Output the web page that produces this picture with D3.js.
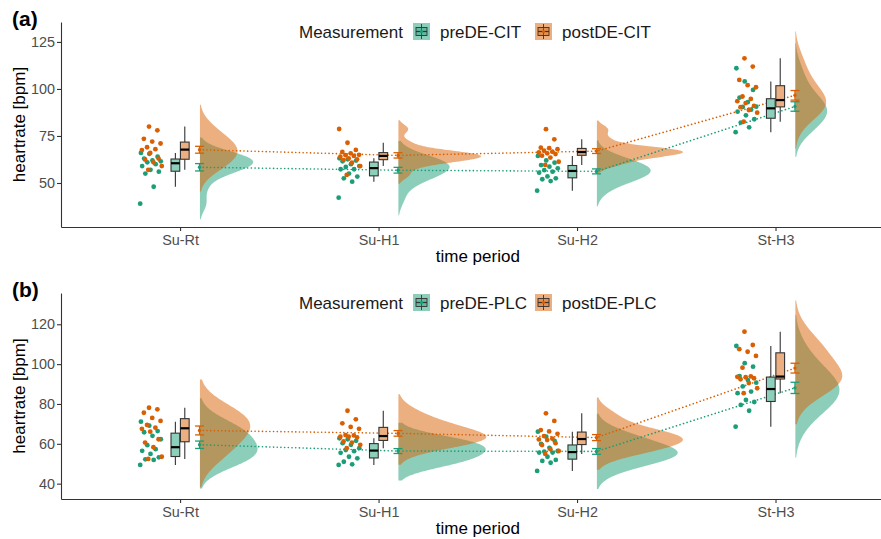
<!DOCTYPE html>
<html>
<head>
<meta charset="utf-8">
<script src="https://cdn.jsdelivr.net/npm/d3@7"></script>
<style>
  body { margin: 0; background: #fff; }
  text { font-family: "Liberation Sans", Arial, sans-serif; }
</style>
</head>
<body>
<div id="chart"></div>
<script>
// time periods on the x axis
const categories = ["Su-Rt", "Su-H1", "Su-H2", "St-H3"];

// heart rates [bpm], one list per time period (Su-Rt, Su-H1, Su-H2, St-H3)
const citPre = [
  [39, 48, 55, 56, 57, 59, 60, 61, 61.5, 62, 63, 64, 65.5, 66],
  [42.2, 50.7, 52.5, 53.4, 55, 57.3, 57.3, 58.5, 59, 60, 61.5, 61.9, 62.6, 63.1],
  [45.9, 51, 52, 52.5, 53.5, 55.5, 56, 56.8, 57.8, 58.7, 59.5, 60.8, 62, 64.4],
  [77, 79.6, 82.1, 83.9, 86, 87.9, 89, 90.4, 90.6, 93, 95.4, 99.5, 104, 111]
];
const citPost = [
  [57, 59, 61, 62.5, 63, 66, 67.5, 68, 69, 71, 72, 73.5, 78, 80],
  [54.3, 59, 60.8, 62.2, 62.6, 63.1, 64, 64.4, 64.8, 65, 65.8, 66.5, 67.6, 71.4, 78.7],
  [59.6, 61.3, 63.5, 64.5, 65.4, 65.8, 66.3, 66.6, 67.2, 68, 68.5, 68.8, 73.2, 78.6],
  [82.6, 87.4, 88.8, 90.3, 91, 92.5, 93.5, 94.7, 96, 100.9, 102, 104.8, 111.9, 116.3]
];
const plcPre = [
  [49.4, 51.9, 52.2, 53.2, 54.9, 56.5, 57.3, 59.3, 62.3, 64, 65.8, 66.4, 69.1, 71.1],
  [49.4, 49.7, 51, 52.7, 53.5, 55.5, 56.3, 56.9, 57.8, 59.5, 60.3, 61.5, 62.3, 62.8],
  [46.4, 50.5, 51.4, 51.9, 53.5, 55.6, 55.6, 56.1, 56.4, 58, 59.9, 61.5, 63.6, 66.1],
  [68.6, 76.6, 79.5, 81, 82, 85.4, 86.2, 88.8, 90.7, 92, 94, 98.7, 100.5, 109.1]
];
const plcPost = [
  [52.4, 53.5, 58.3, 60.6, 62.3, 66.1, 67.5, 68.1, 69.5, 71.5, 73, 75.6, 77.3, 78.1],
  [57.8, 59.5, 60.6, 61.2, 63.2, 63.6, 63.6, 64.2, 64.4, 67.5, 68.5, 70.3, 72.3, 76.6],
  [54.9, 56.4, 57.3, 59.4, 60.3, 61.9, 62.2, 62.6, 63.9, 65, 66.2, 66.9, 71.5, 75.3],
  [85.4, 87.9, 90.5, 92.4, 92.9, 93.4, 93.6, 93.9, 98.2, 104.1, 106.2, 107.5, 109.6, 116.3]
];

// y tick labels per panel
const yTicksA = [50, 75, 100, 125];
const yTicksB = [40, 60, 80, 100, 120];

const preColor = "#1B9E77";
const postColor = "#D95F02";

const svg = d3.select("#chart").append("svg")
  .attr("width", 881)
  .attr("height", 539)
  .style("display", "block");

const x = d3.scaleLinear().domain([-0.6, 3.6]).range([61, 894.6]);

const panels = [
  { tag: "(a)", top: 22, bottom: 227, yDomain: [26.6, 135.6], yTicks: yTicksA,
    pre: citPre, post: citPost, preName: "preDE-CIT", postName: "postDE-CIT", maxW: 86 },
  { tag: "(b)", top: 293, bottom: 499, yDomain: [32.3, 135.7], yTicks: yTicksB,
    pre: plcPre, post: plcPost, preName: "preDE-PLC", postName: "postDE-PLC", maxW: 88 }
];

function stats(v) {
  const s = v.slice().sort(d3.ascending);
  const q1 = d3.quantile(s, 0.25), med = d3.quantile(s, 0.5), q3 = d3.quantile(s, 0.75);
  const iqr = q3 - q1;
  const lo = d3.min(s.filter(d => d >= q1 - 1.5 * iqr));
  const hi = d3.max(s.filter(d => d <= q3 + 1.5 * iqr));
  const mean = d3.mean(s);
  const se = d3.deviation(s) / Math.sqrt(s.length);
  return { q1, med, q3, lo, hi, mean, se };
}

// gaussian kernel density, nrd0 bandwidth widened, tails cut past the data
function kde(v) {
  const n = v.length;
  const s = v.slice().sort(d3.ascending);
  const iqr = d3.quantile(s, 0.75) - d3.quantile(s, 0.25);
  const bw = 1.6 * 0.9 * Math.min(d3.deviation(s), iqr / 1.34) * Math.pow(n, -0.2);
  const lo = s[0] - 2 * bw, hi = s[n - 1] + 2 * bw;
  const pts = [];
  for (let k = 0; k <= 200; k++) {
    const t = lo + (hi - lo) * k / 200;
    let d = 0;
    for (const xi of s) { const u = (t - xi) / bw; d += Math.exp(-0.5 * u * u); }
    pts.push({ y: t, d: d / (n * bw * Math.sqrt(2 * Math.PI)) });
  }
  return pts;
}

panels.forEach(p => {
  const y = d3.scaleLinear().domain(p.yDomain).range([p.bottom, p.top]);
  const g = svg.append("g");

  const groups = [
    { data: p.pre, color: preColor, dx: -0.0237, gi: 0 },
    { data: p.post, color: postColor, dx: 0.0237, gi: 1 }
  ];
  groups.forEach(gr => {
    gr.stats = gr.data.map(stats);
    gr.dens = gr.data.map(kde);
  });
  const maxD = d3.max(groups, gr => d3.max(gr.dens, ds => d3.max(ds, d => d.d)));
  const K = p.maxW / maxD;

  // half violins
  groups.forEach(gr => {
    gr.dens.forEach((ds, i) => {
      const x0 = x(i + 0.1);
      g.append("path")
        .attr("d", d3.area().curve(d3.curveBasis).x0(x0).x1(d => x0 + d.d * K).y(d => y(d.y))(ds))
        .attr("fill", gr.color)
        .attr("fill-opacity", 0.5);
    });
  });

  // dotted lines between means
  groups.forEach(gr => {
    g.append("path")
      .attr("d", d3.line().x((s, i) => x(i + 0.098)).y(s => y(s.mean))(gr.stats))
      .attr("fill", "none")
      .attr("stroke", gr.color)
      .attr("stroke-width", 1.6)
      .attr("stroke-dasharray", "0.1,3.6")
      .attr("stroke-linecap", "round");
  });

  // raw points
  groups.forEach(gr => {
    gr.data.forEach((vals, i) => {
      vals.forEach((v, j) => {
        const jit = (((j * 0.618034 + gr.gi * 0.37) % 1) - 0.5) * 0.11;
        g.append("circle")
          .attr("cx", x(i - 0.146 + jit))
          .attr("cy", y(v))
          .attr("r", 2.4)
          .attr("fill", gr.color);
      });
    });
  });

  // boxplots
  const bw = x(0.044) - x(0);
  groups.forEach(gr => {
    gr.stats.forEach((s, i) => {
      const cx = x(i + gr.dx);
      g.append("line").attr("x1", cx).attr("x2", cx).attr("y1", y(s.hi)).attr("y2", y(s.q3))
        .attr("stroke", "#333").attr("stroke-width", 1.1);
      g.append("line").attr("x1", cx).attr("x2", cx).attr("y1", y(s.q1)).attr("y2", y(s.lo))
        .attr("stroke", "#333").attr("stroke-width", 1.1);
      g.append("rect")
        .attr("x", cx - bw / 2).attr("width", bw)
        .attr("y", y(s.q3)).attr("height", y(s.q1) - y(s.q3))
        .attr("fill", d3.interpolateRgb("#fff", gr.color)(0.5))
        .attr("stroke", "#333").attr("stroke-width", 1.1);
      g.append("line").attr("x1", cx - bw / 2).attr("x2", cx + bw / 2)
        .attr("y1", y(s.med)).attr("y2", y(s.med))
        .attr("stroke", "#000").attr("stroke-width", 2.2);
    });
  });

  // mean +/- se
  groups.forEach(gr => {
    gr.stats.forEach((s, i) => {
      const cx = x(i + 0.098);
      const e = g.append("g").attr("stroke", gr.color).attr("stroke-width", 1.3);
      e.append("line").attr("x1", cx).attr("x2", cx).attr("y1", y(s.mean - s.se)).attr("y2", y(s.mean + s.se));
      e.append("line").attr("x1", cx - 4.5).attr("x2", cx + 4.5).attr("y1", y(s.mean - s.se)).attr("y2", y(s.mean - s.se));
      e.append("line").attr("x1", cx - 4.5).attr("x2", cx + 4.5).attr("y1", y(s.mean + s.se)).attr("y2", y(s.mean + s.se));
      g.append("circle").attr("cx", cx).attr("cy", y(s.mean)).attr("r", 1.7).attr("fill", gr.color);
    });
  });

  // axes
  const xAxis = d3.axisBottom(x).tickValues([0, 1, 2, 3]).tickFormat(i => categories[i])
    .tickSize(4).tickSizeOuter(0).tickPadding(4);
  const xg = g.append("g").attr("transform", `translate(0,${p.bottom})`).call(xAxis);
  const yAxis = d3.axisLeft(y).tickValues(p.yTicks).tickSize(4).tickSizeOuter(0).tickPadding(2);
  const yg = g.append("g").attr("transform", "translate(61,0)").call(yAxis);
  [xg, yg].forEach(a => {
    a.select(".domain").attr("stroke", "#333").attr("stroke-width", 1.1);
    a.selectAll(".tick line").attr("stroke", "#333").attr("stroke-width", 1.1);
    a.selectAll(".tick text").attr("fill", "#4D4D4D")
      .style("font-size", "14.4px").style("font-family", "'Liberation Sans', Arial, sans-serif");
  });

  // titles
  g.append("text")
    .attr("x", (61 + 894.6) / 2).attr("y", p.bottom + 35)
    .attr("text-anchor", "middle").attr("font-size", 17).attr("fill", "#000")
    .text("time period");
  g.append("text")
    .attr("transform", `translate(24.5,${(p.top + p.bottom) / 2}) rotate(-90)`)
    .attr("text-anchor", "middle").attr("font-size", 17).attr("fill", "#000")
    .text("heartrate [bpm]");
  g.append("text")
    .attr("x", 12).attr("y", p.top + 4)
    .attr("font-size", 21).attr("font-weight", "bold").attr("fill", "#000")
    .text(p.tag);

  // legend
  const ly = p.top + 16;
  g.append("text").attr("x", 299).attr("y", ly).attr("font-size", 17).attr("fill", "#1a1a1a")
    .text("Measurement");
  [[413, preColor, p.preName], [535, postColor, p.postName]].forEach(([lx, col, name]) => {
    const k = g.append("g").attr("transform", `translate(${lx},${ly - 15})`);
    k.append("rect").attr("width", 17).attr("height", 17).attr("fill", col).attr("fill-opacity", 0.5);
    k.append("line").attr("x1", 8.5).attr("x2", 8.5).attr("y1", 1).attr("y2", 16)
      .attr("stroke", "#333").attr("stroke-width", 0.9);
    k.append("rect").attr("x", 3).attr("y", 4.5).attr("width", 11).attr("height", 8)
      .attr("fill", col).attr("fill-opacity", 0.4).attr("stroke", "#333").attr("stroke-width", 0.9);
    k.append("line").attr("x1", 3).attr("x2", 14).attr("y1", 8.5).attr("y2", 8.5)
      .attr("stroke", "#333").attr("stroke-width", 1.2);
    k.append("circle").attr("cx", 8.5).attr("cy", 8.5).attr("r", 1.6).attr("fill", col);
    g.append("text").attr("x", lx + 27).attr("y", ly).attr("font-size", 17).attr("fill", "#1a1a1a")
      .text(name);
  });
});
</script>
</body>
</html>
